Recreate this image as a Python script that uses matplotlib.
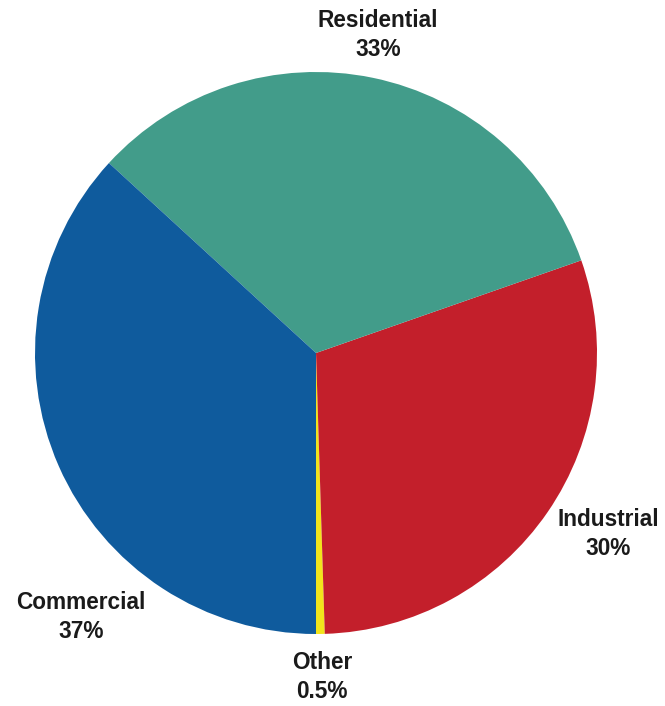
import matplotlib.pyplot as plt
import numpy as np

# Share of electricity use by sector
sectors = ['Other', 'Industrial', 'Residential', 'Commercial']
shares = [0.5, 30, 33, 37]
share_labels = ['0.5%', '30%', '33%', '37%']
colors = ['#f2e41c', '#c31f2b', '#429c8a', '#0f5b9d']

# where each label sits: angle in degrees, distance in pie radii
label_angles = [-88.9, -31.8, 79.0, 228.3]
label_dist = [1.153, 1.222, 1.153, 1.258]

plt.rcParams['font.family'] = ['Liberation Sans', 'DejaVu Sans']

fig = plt.figure(figsize=(6.65, 7.06), dpi=100)
ax = fig.add_axes([0, 0, 1, 1])

cx, cy, r = 316, 706 - 353, 281
ax.pie(shares, colors=colors, startangle=-90, counterclock=True,
       center=(cx, cy), radius=r, wedgeprops=dict(linewidth=0))

for name, lab, ang, d in zip(sectors, share_labels, label_angles, label_dist):
    a = np.deg2rad(ang)
    ax.text(cx + d * r * np.cos(a), cy + d * r * np.sin(a), f'{name}\n{lab}',
            ha='center', va='center', fontsize=16.3, fontweight='bold',
            color='#1a1a1a', linespacing=1.3)

ax.set_xlim(0, 665)
ax.set_ylim(0, 706)
ax.set_aspect('equal')
ax.axis('off')

fig.savefig('out.png', dpi=100)
